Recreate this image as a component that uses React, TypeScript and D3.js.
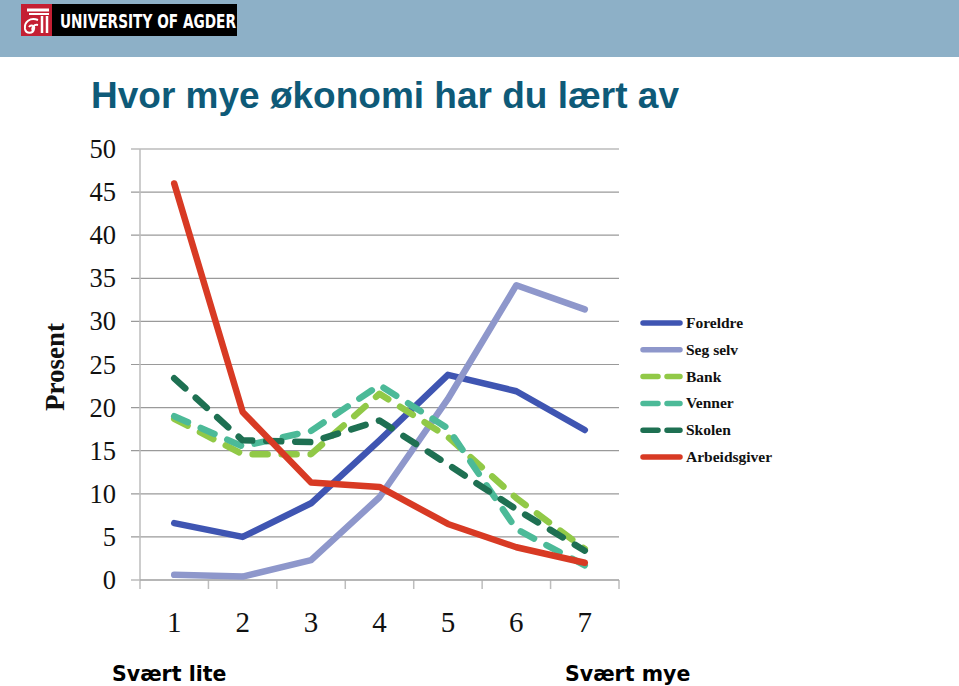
import React from "react";
import * as d3 from "d3";

const categories = ["1", "2", "3", "4", "5", "6", "7"];
const yTicks = [0, 5, 10, 15, 20, 25, 30, 35, 40, 45, 50];
const seriesNames = ["Foreldre", "Seg selv", "Bank", "Venner", "Skolen", "Arbeidsgiver"];
const foreldre = [6.6, 5.0, 8.9, 16.2, 23.8, 21.9, 17.4];
const segSelv = [0.6, 0.4, 2.3, 9.6, 21.0, 34.2, 31.4];
const bank = [18.7, 14.6, 14.6, 21.6, 16.6, 9.5, 3.6];
const venner = [19.0, 15.5, 17.3, 22.6, 17.6, 5.9, 1.7];
const skolen = [23.4, 16.2, 16.0, 18.5, 13.4, 8.2, 3.4];
const arbeidsgiver = [46.0, 19.5, 11.3, 10.8, 6.5, 3.8, 2.0];

const seriesValues = [foreldre, segSelv, bank, venner, skolen, arbeidsgiver];
const seriesColors = ["#3F55B2", "#8E97CB", "#91C947", "#4CBA98", "#1E7052", "#D83A24"];
const seriesDashed = [false, false, true, true, true, false];

const W = 959;
const H = 686;
const plot = { left: 140, right: 619, top: 149, bottom: 580 };

export default function App() {
  const x = d3
    .scaleBand<string>()
    .domain(categories)
    .range([plot.left, plot.right])
    .padding(0);
  const y = d3.scaleLinear().domain([0, 50]).range([plot.bottom, plot.top]);
  const cx = (c: string) => (x(c) as number) + x.bandwidth() / 2;

  const line = d3
    .line<number>()
    .x((_, i) => cx(categories[i]))
    .y((v) => y(v));

  const boundaries = categories.map((c) => x(c) as number).concat([plot.right]);

  const legendX = 643;
  const legendY0 = 323;
  const legendStep = 26.8;

  return (
    <svg
      width={W}
      height={H}
      style={{ position: "absolute", left: 0, top: 0, background: "#fff" }}
    >
      {/* Header band */}
      <rect x={0} y={0} width={W} height={57} fill="#8DB0C7" />
      <rect x={21} y={4} width={216} height={32} fill="#000" />
      <rect x={21} y={4} width={31} height={32} fill="#C41F33" />
      {/* stylised column icon */}
      <g fill="none" stroke="#fff" strokeWidth={2}>
        <path d="M27 10 L49 10" strokeWidth={3} />
        <path d="M29 14 L49 14" />
        <path d="M42 16 L42 33" strokeWidth={2.5} />
        <path d="M47 16 L47 33" strokeWidth={2.5} />
        <path d="M38 20 C30 17 24 22 25 29 C26 34 33 34 34 29 C35 26 31 24 29 27" />
        <path d="M38 25 C34 24 31 28 33 31" />
      </g>
      <text
        x={60}
        y={27.5}
        fill="#fff"
        fontFamily="'DejaVu Sans Condensed', 'Liberation Sans Narrow', 'Liberation Sans', Arial, sans-serif"
        fontSize={19}
        fontWeight="bold"
        textLength={176}
        lengthAdjust="spacingAndGlyphs"
      >
        UNIVERSITY OF AGDER
      </text>

      {/* Title */}
      <text
        x={91}
        y={108}
        fill="#0E5A78"
        fontFamily="'Liberation Sans', Arial, sans-serif"
        fontWeight="bold"
        fontSize={37}
      >
        Hvor mye økonomi har du lært av
      </text>

      {/* Gridlines */}
      {yTicks.map((t) => (
        <line
          key={"g" + t}
          x1={plot.left - 9}
          x2={plot.right}
          y1={y(t)}
          y2={y(t)}
          stroke="#9A9A9A"
          strokeWidth={1.2}
        />
      ))}
      {/* Y axis */}
      <line x1={plot.left} x2={plot.left} y1={plot.top} y2={plot.bottom} stroke="#BDBDBD" strokeWidth={1.5} />
      {/* X axis ticks */}
      {boundaries.map((b, i) => (
        <line
          key={"xt" + i}
          x1={b}
          x2={b}
          y1={plot.bottom}
          y2={plot.bottom + 9}
          stroke="#BDBDBD"
          strokeWidth={1.5}
        />
      ))}
      <line x1={plot.left} x2={plot.right} y1={plot.bottom} y2={plot.bottom} stroke="#A0A0A0" strokeWidth={1.2} />

      {/* Y tick labels */}
      {yTicks.map((t) => (
        <text
          key={"yl" + t}
          x={116}
          y={y(t) + 9}
          textAnchor="end"
          fontFamily="'Liberation Serif', 'Times New Roman', serif"
          fontSize={26.5}
          fill="#111"
        >
          {t}
        </text>
      ))}
      {/* X tick labels */}
      {categories.map((c) => (
        <text
          key={"xl" + c}
          x={cx(c)}
          y={632}
          textAnchor="middle"
          fontFamily="'Liberation Serif', 'Times New Roman', serif"
          fontSize={29}
          fill="#111"
        >
          {c}
        </text>
      ))}
      {/* Y axis title */}
      <text
        transform={`translate(64, 367) rotate(-90)`}
        textAnchor="middle"
        fontFamily="'Liberation Serif', 'Times New Roman', serif"
        fontWeight="bold"
        fontSize={27}
        fill="#111"
      >
        Prosent
      </text>

      {/* Series */}
      {seriesValues.map((vals, si) => (
        <path
          key={"s" + si}
          d={line(vals) as string}
          fill="none"
          stroke={seriesColors[si]}
          strokeWidth={6.5}
          strokeLinecap="round"
          strokeLinejoin="round"
          strokeDasharray={seriesDashed[si] ? "15,14" : undefined}
        />
      ))}

      {/* Legend */}
      {seriesNames.map((name, i) => {
        const ly = legendY0 + i * legendStep;
        return (
          <g key={"lg" + i}>
            <line
              x1={legendX}
              x2={legendX + 37}
              y1={ly}
              y2={ly}
              stroke={seriesColors[i]}
              strokeWidth={5.5}
              strokeLinecap="round"
              strokeDasharray={seriesDashed[i] ? "15,9" : undefined}
            />
            <text
              x={legendX + 43}
              y={ly + 5}
              fontFamily="'Liberation Serif', 'Times New Roman', serif"
              fontWeight="bold"
              fontSize={15.5}
              fill="#111"
            >
              {name}
            </text>
          </g>
        );
      })}

      {/* Bottom labels */}
      <text
        x={112}
        y={681}
        fontFamily="'DejaVu Sans', Verdana, sans-serif"
        fontWeight="bold"
        fontSize={20.5}
        fill="#000"
      >
        Svært lite
      </text>
      <text
        x={565}
        y={681}
        fontFamily="'DejaVu Sans', Verdana, sans-serif"
        fontWeight="bold"
        fontSize={20.5}
        fill="#000"
      >
        Svært mye
      </text>
    </svg>
  );
}
